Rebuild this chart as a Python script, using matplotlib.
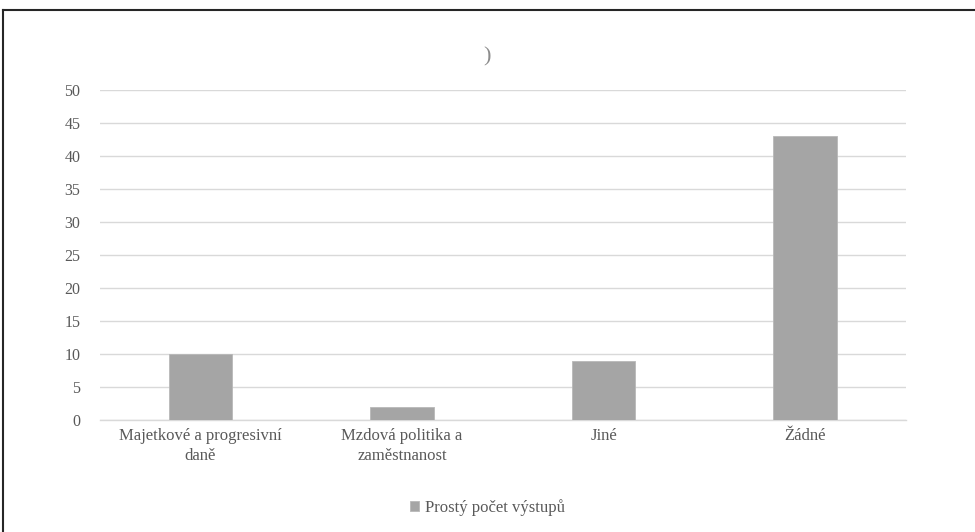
import matplotlib.pyplot as plt
from matplotlib.lines import Line2D

categories = ["Majetkové a progresivní\ndaně", "Mzdová politika a\nzaměstnanost", "Jiné", "Žádné"]
values = [10, 2, 9, 43]
series_name = "Prostý počet výstupů"
yticks = [0, 5, 10, 15, 20, 25, 30, 35, 40, 45, 50]

plt.rcParams['font.family'] = ['Liberation Serif', 'DejaVu Serif']
txt = '#595959'
grid = '#d9d9d9'

fig = plt.figure(figsize=(9.75, 5.32), dpi=100)
ax = fig.add_axes([0.1023, 0.2105, 0.8267, 0.6203])

ax.bar(range(len(categories)), values, width=0.313, color='#a5a5a5',
       edgecolor='#b8b8b8', linewidth=0.6, label=series_name, zorder=3)

ax.set_xlim(-0.5, len(categories) - 0.5)
ax.set_ylim(0, 50)
ax.set_yticks(yticks)
ax.set_xticks(range(len(categories)))
ax.set_xticklabels(categories, fontsize=12, color=txt, linespacing=1.3)
ax.tick_params(axis='y', length=0, pad=14, labelsize=11.5, labelcolor=txt)
ax.tick_params(axis='x', length=0, pad=6)
ax.yaxis.grid(True, color=grid, linewidth=1, zorder=0)
for s in ['top', 'right', 'left']:
    ax.spines[s].set_visible(False)
ax.spines['bottom'].set_color(grid)
ax.spines['bottom'].set_linewidth(1)

fig.text(0.4995, 0.893, ")", ha='center', va='center', fontsize=16, color='#8c8c8c')

ax.legend(loc='center', bbox_to_anchor=(0.5, 0.046), bbox_transform=fig.transFigure,
          frameon=False, fontsize=12, labelcolor=txt, handlelength=0.55,
          handleheight=0.55, handletextpad=0.4)

# outer frame (top and left edges visible)
fig.add_artist(Line2D([0.0035, 1.0], [1 - 9.5 / 532, 1 - 9.5 / 532], transform=fig.transFigure,
                      color='#262626', linewidth=1.5))
fig.add_artist(Line2D([0.0035, 0.0035], [0, 1 - 9.5 / 532], transform=fig.transFigure,
                      color='#262626', linewidth=1.5))

fig.savefig("out.png", dpi=100)
